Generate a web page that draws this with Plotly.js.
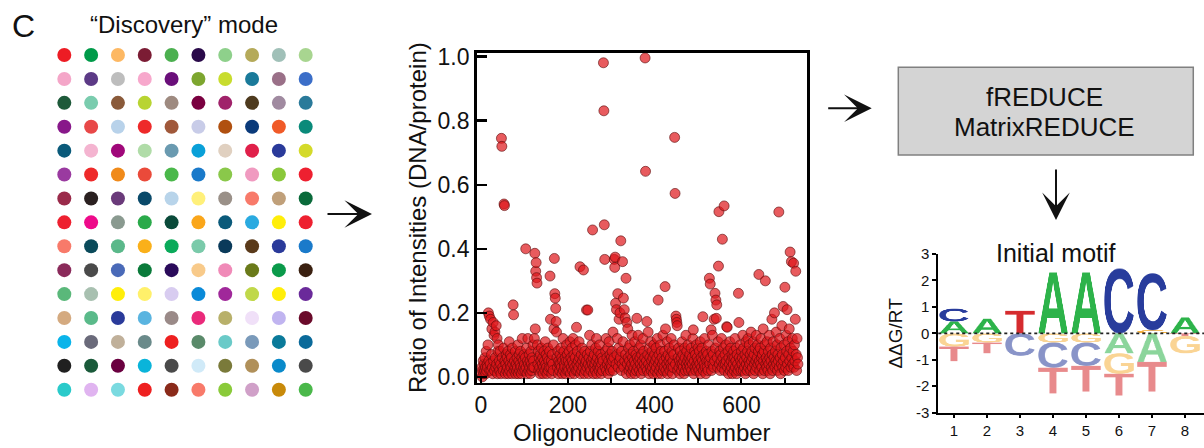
<!DOCTYPE html>
<html>
<head>
<meta charset="utf-8">
<script src="https://cdn.plot.ly/plotly-3.0.1.min.js"></script>
<style>
  html, body { margin: 0; padding: 0; background: #fff; }
  #chart { width: 1204px; height: 448px; }
</style>
</head>
<body>
<div id="chart"></div>
<script>
const FONT = 'Liberation Sans, Arial, Helvetica, sans-serif';

// Array spots, one colour per oligonucleotide, listed row by row (10 per row)
const dotColors = [
  ['#ED1C24','#009A49','#FDB863','#7B1C34','#4CB050','#2A0A4A','#8ED08B','#B5AA5A','#A0C0B8','#A8D590'],
  ['#F4A6C8','#5C3A86','#BDBDBD','#F7A8CC','#6A0F7A','#7DA62F','#C8DC2E','#1A7A9A','#9A7088','#3B6EC8'],
  ['#1E5A3A','#7ACCAE','#8A5A3A','#B8D432','#9E8A80','#7A0040','#A0226A','#4E3A1E','#A08AA0','#2A7A9A'],
  ['#88188A','#E84848','#B8D2EA','#EE2A2A','#A0583A','#C8CCE8','#B05010','#0A3A7A','#F05A28','#0A8A7A'],
  ['#0A5A7A','#F4B4D0','#A0087A','#B0DCA8','#6A9AB0','#0AA0D8','#E0D0C0','#E0204A','#2A3A9A','#D4DA2A'],
  ['#9A3AA0','#EE2A2A','#F08A1A','#EA4A3A','#4AB84A','#1A7ACA','#8AC84A','#F09AC0','#8AC83A','#EE2030'],
  ['#9A2A4A','#2A2020','#6A3A7A','#0A4A6A','#B8D4EA','#FFF07A','#9A9088','#F87A6A','#C0A07A','#0A6A3A'],
  ['#EE2030','#EE0A8A','#8A9A90','#2AAA4A','#0A4A3A','#FAA61A','#0A5A7A','#2AAAE0','#FFEE0A','#EE2030'],
  ['#F87A6A','#0A4A5A','#5AB88A','#FAB01A','#0AAA5A','#7ACAAA','#0A3A5A','#5A3A1A','#2A3A9A','#1A7ACA'],
  ['#8A2A5A','#4A4A4A','#4A6AB8','#0A7A3A','#2A0A5A','#F8CA8A','#F08AB8','#6A7A1A','#0A9A4A','#3A2010'],
  ['#5AB87A','#A8C0B0','#FFEE0A','#FFF06A','#D8CCF0','#0A8AD8','#A0289A','#C0D84A','#FFEE0A','#6A2A9A'],
  ['#D4AA80','#5ABA8A','#2A3A9A','#5AB4E0','#9A8A88','#EA2A7A','#B8B06A','#F0E0F8','#C0B4F0','#6A0A2A'],
  ['#0AB4EA','#6A6A7A','#C0B09A','#6A8A8A','#EE2020','#5A8A6A','#6ACAC8','#7A9ABA','#0A7A9A','#0A6A9A'],
  ['#202020','#1A5A3A','#6A0040','#0AB4DA','#4A4A4A','#D0EAF8','#7A7A3A','#B0905A','#0A8ACA','#4A4A4A'],
  ['#2ACACA','#E0B4F0','#7ADAE0','#EE2020','#8A2A1A','#F87A6A','#8ACA3A','#D0A0C8','#C88A0A','#4AB84A']
];

// DNA/protein intensity ratio, one value per oligonucleotide (numbered from 1)
const ratio = [
  .01,.03,.00,.02,.05,.01,.04,.02,.06,.03,.01,.08,.02,.04,.03,.10,.20,.05,.19,.02,
  .04,.18,.02,.07,.15,.03,.01,.17,.05,.13,.02,.14,.06,.03,.16,.04,.12,.01,.08,.10,
  .03,.05,.02,.08,.04,.01,.745,.72,.06,.03,.02,.09,.54,.535,.05,.01,.04,.07,.02,.06,
  .03,.08,.01,.05,.11,.02,.04,.07,.03,.06,.01,.09,.04,.225,.194,.02,.05,.03,.08,.01,
  .04,.02,.06,.03,.10,.01,.05,.07,.02,.04,.08,.03,.01,.06,.12,.02,.05,.03,.07,.04,
  .02,.06,.40,.03,.09,.01,.05,.12,.04,.02,.07,.03,.05,.01,.08,.04,.02,.06,.03,.10,
  .05,.03,.12,.386,.15,.33,.357,.31,.293,.10,.04,.08,.02,.06,.03,.01,.07,.05,.09,.02,
  .04,.06,.01,.03,.08,.05,.02,.11,.04,.07,.03,.01,.06,.09,.02,.05,.03,.08,.315,.18,
  .03,.05,.01,.07,.04,.02,.10,.15,.37,.26,.246,.214,.173,.14,.06,.03,.08,.01,.05,.04,
  .02,.07,.04,.09,.03,.06,.01,.05,.12,.02,.08,.04,.03,.06,.01,.05,.10,.02,.07,.03,
  .05,.02,.08,.04,.11,.01,.06,.03,.09,.05,.02,.12,.04,.07,.01,.03,.06,.10,.02,.155,
  .04,.08,.02,.05,.03,.11,.06,.344,.01,.04,.07,.02,.09,.05,.03,.334,.06,.01,.08,.04,
  .02,.05,.209,.03,.07,.209,.04,.01,.06,.13,.03,.08,.02,.05,.10,.04,.459,.06,.01,.03,
  .07,.04,.02,.09,.05,.12,.01,.06,.03,.08,.04,.02,.10,.05,.03,.07,.01,.04,.06,.02,
  .05,.981,.831,.475,.367,.03,.08,.12,.02,.06,.04,.09,.01,.05,.11,.03,.07,.02,.04,.06,
  .03,.08,.05,.14,.02,.06,.367,.342,.374,.23,.04,.21,.07,.12,.26,.03,.09,.18,.05,.20,
  .06,.425,.02,.08,.04,.36,.11,.246,.03,.21,.05,.184,.07,.308,.01,.17,.04,.15,.06,.09,
  .02,.05,.10,.03,.07,.01,.04,.13,.06,.02,.08,.03,.05,.11,.01,.04,.07,.02,.183,.06,
  .03,.13,.05,.09,.02,.06,.04,.10,.01,.07,.03,.05,.12,.02,.08,.04,.06,.996,.642,.03,
  .05,.173,.02,.07,.14,.04,.01,.09,.06,.03,.11,.02,.05,.08,.03,.06,.01,.10,.04,.07,
  .02,.05,.09,.03,.06,.12,.01,.24,.04,.07,.02,.05,.10,.03,.08,.01,.06,.04,.13,.02,
  .05,.03,.08,.282,.15,.02,.06,.04,.11,.01,.07,.03,.05,.09,.02,.06,.04,.12,.03,.08,
  .01,.05,.03,.07,.10,.748,.573,.04,.19,.18,.17,.16,.02,.06,.09,.03,.05,.01,.08,.04,
  .06,.02,.11,.04,.07,.03,.05,.01,.09,.06,.02,.13,.04,.08,.03,.05,.10,.02,.06,.04,
  .07,.03,.05,.09,.02,.06,.04,.12,.147,.01,.05,.08,.03,.07,.02,.10,.04,.06,.03,.09,
  .05,.02,.08,.04,.11,.01,.06,.03,.09,.05,.188,.02,.07,.04,.12,.03,.06,.01,.08,.05,
  .03,.07,.02,.10,.05,.308,.04,.29,.06,.147,.02,.08,.13,.04,.07,.03,.18,.05,.261,.09,
  .24,.183,.225,.06,.03,.11,.346,.516,.04,.08,.02,.07,.05,.12,.03,.43,.06,.09,.04,.534,
  .02,.07,.04,.10,.05,.157,.155,.03,.08,.01,.06,.04,.11,.02,.09,.05,.03,.07,.01,.06,
  .04,.08,.02,.06,.12,.03,.05,.09,.01,.07,.04,.02,.261,.17,.06,.03,.10,.05,.02,.08,
  .04,.06,.13,.02,.09,.05,.03,.07,.01,.11,.04,.06,.02,.08,.12,.03,.05,.10,.04,.07,
  .02,.14,.05,.08,.03,.06,.11,.01,.07,.04,.09,.02,.05,.13,.03,.06,.10,.04,.08,.32,
  .05,.02,.09,.04,.12,.06,.03,.07,.01,.15,.05,.08,.02,.10,.30,.04,.06,.03,.11,.05,
  .02,.08,.04,.13,.06,.01,.09,.05,.03,.18,.07,.02,.11,.04,.06,.20,.03,.08,.05,.14,
  .04,.10,.02,.07,.05,.515,.03,.12,.06,.01,.09,.04,.16,.07,.03,.22,.05,.10,.02,.28,
  .06,.03,.13,.08,.21,.04,.11,.02,.07,.15,.05,.39,.09,.03,.36,.06,.12,.04,.08,.355,
  .03,.10,.05,.18,.33,.07,.02,.12,.06,.04
];
const xTickVals = [0, 100, 200, 300, 400, 500, 600, 700];
const xTickText = ['0', '', '200', '', '400', '', '600', ''];
const yTickVals = [0, 0.2, 0.4, 0.6, 0.8, 1.0];
const yTickText = ['0.0', '0.2', '0.4', '0.6', '0.8', '1.0'];

// Initial motif: ΔΔG/RT contribution of each base at positions 1-8
const motifPositions = [1, 2, 3, 4, 5, 6, 7, 8];
const motifA = [0.45, 0.55, 0, 2.3, 2.3, -0.75, -1.08, 0.6];
const motifC = [0.48, 0, -0.85, -0.95, -0.88, 2.45, 2.15, 0];
const motifG = [-0.5, -0.35, 0, -0.35, -0.35, -0.78, 0.12, -0.65];
const motifT = [-0.55, -0.4, 0.85, -0.97, -0.97, -0.82, -1.12, -0.1];
const motifTickVals = [-3, -2, -1, 0, 1, 2, 3];
const motifTickText = ['-3', '-2', '-1', '0', '1', '2', '3'];
const baseColors = { A: '#2DB34A', C: '#283C9C', G: '#F6B13D', T: '#D52B2E' };

// Render one glyph cropped tightly to its ink so it can be stretched to a stack height
const glyphCache = {};
function glyph(letter) {
  if (glyphCache[letter]) return glyphCache[letter];
  const canvas = document.createElement('canvas');
  let ctx = canvas.getContext('2d');
  const font = 'bold 240px "Liberation Sans", Arial, sans-serif';
  ctx.font = font;
  const m = ctx.measureText(letter);
  const left = m.actualBoundingBoxLeft, right = m.actualBoundingBoxRight;
  const asc = m.actualBoundingBoxAscent, desc = m.actualBoundingBoxDescent;
  canvas.width = Math.ceil(left + right);
  canvas.height = Math.ceil(asc + desc);
  ctx = canvas.getContext('2d');
  ctx.font = font;
  ctx.fillStyle = baseColors[letter];
  ctx.textBaseline = 'alphabetic';
  ctx.fillText(letter, left, asc);
  glyphCache[letter] = canvas.toDataURL('image/png');
  return glyphCache[letter];
}

// Stack letters outward from zero: smallest magnitude nearest the axis
const letterWidth = 0.9;
const logoImages = [];
motifPositions.forEach((pos, i) => {
  const entries = [
    { b: 'A', v: motifA[i] }, { b: 'C', v: motifC[i] },
    { b: 'G', v: motifG[i] }, { b: 'T', v: motifT[i] }
  ];
  const up = entries.filter(e => e.v > 0).sort((a, b) => a.v - b.v);
  const down = entries.filter(e => e.v < 0).sort((a, b) => b.v - a.v);
  let top = 0;
  up.forEach(e => {
    logoImages.push({
      source: glyph(e.b), xref: 'x3', yref: 'y3',
      x: pos - letterWidth / 2, y: top + e.v, sizex: letterWidth, sizey: e.v,
      xanchor: 'left', yanchor: 'top', sizing: 'stretch', layer: 'above', opacity: 1
    });
    top += e.v;
  });
  let bottom = 0;
  down.forEach(e => {
    logoImages.push({
      source: glyph(e.b), xref: 'x3', yref: 'y3',
      x: pos - letterWidth / 2, y: bottom, sizex: letterWidth, sizey: -e.v,
      xanchor: 'left', yanchor: 'top', sizing: 'stretch', layer: 'above', opacity: 0.55
    });
    bottom += e.v;
  });
});

// Spot grid trace
const dotX = [], dotY = [], dotC = [];
dotColors.forEach((row, r) => row.forEach((col, c) => {
  dotX.push(c + 1); dotY.push(r + 1); dotC.push(col);
}));

const traces = [
  {
    type: 'scatter', mode: 'markers', xaxis: 'x2', yaxis: 'y2',
    x: dotX, y: dotY, hoverinfo: 'skip',
    marker: { size: 14, color: dotC, line: { width: 0 } }
  },
  {
    type: 'scatter', mode: 'markers', xaxis: 'x', yaxis: 'y',
    x: ratio.map((_, i) => i + 1), y: ratio, hoverinfo: 'skip',
    marker: {
      size: 10, color: 'rgba(222,22,26,0.7)',
      line: { width: 1, color: 'rgba(90,12,12,0.6)' }
    }
  }
];

const axisFont = { family: FONT, size: 23, color: '#111' };

function label(text, px, py, size) {
  return {
    text: text, xref: 'paper', yref: 'paper', x: px / 1204, y: 1 - py / 448,
    xanchor: 'center', yanchor: 'middle', showarrow: false,
    font: { family: FONT, size: size, color: '#111' }
  };
}
function arrow(px, py, ax, ay) {
  return {
    text: '', xref: 'paper', yref: 'paper', x: px / 1204, y: 1 - py / 448, ax: ax, ay: ay,
    showarrow: true, arrowhead: 3, arrowsize: 2.3, arrowwidth: 2, arrowcolor: '#111', standoff: 0
  };
}

const layout = {
  width: 1204, height: 448,
  margin: { l: 0, r: 0, t: 0, b: 0 },
  paper_bgcolor: '#fff', plot_bgcolor: 'rgba(0,0,0,0)',
  showlegend: false,
  font: { family: FONT, color: '#111' },
  xaxis: {
    domain: [0.3959, 0.6703], range: [-10, 751], anchor: 'y',
    tickvals: xTickVals, ticktext: xTickText, tickfont: axisFont,
    ticks: 'inside', ticklen: 5, tickwidth: 2, tickcolor: '#000',
    showline: true, linewidth: 2.5, linecolor: '#000', mirror: true,
    showgrid: false, zeroline: false,
    title: { text: 'Oligonucleotide Number', font: { family: FONT, size: 24, color: '#111' }, standoff: 8 }
  },
  yaxis: {
    domain: [0.1458, 0.8824], range: [-0.018, 1.0125], anchor: 'x',
    tickvals: yTickVals, ticktext: yTickText, tickfont: axisFont,
    ticks: 'inside', ticklen: 10, tickwidth: 2.5, tickcolor: '#000',
    showline: true, linewidth: 2.5, linecolor: '#000', mirror: true,
    showgrid: false, zeroline: false,
    title: { text: 'Ratio of Intensities (DNA/protein)', font: { family: FONT, size: 24, color: '#111' }, standoff: 4 }
  },
  xaxis2: { domain: [0.04153, 0.26578], range: [0.467, 10.533], anchor: 'y2', visible: false, fixedrange: true },
  yaxis2: { domain: [0.096, 0.9107], range: [15.64, 0.372], anchor: 'x2', visible: false, fixedrange: true },
  xaxis3: {
    domain: [0.7793, 1], range: [0.524, 8.576], anchor: 'y3',
    tickvals: motifPositions, tickfont: { family: FONT, size: 15, color: '#111' },
    ticks: 'outside', ticklen: 3, tickwidth: 1.5, tickcolor: '#000',
    showline: true, linewidth: 2, linecolor: '#000',
    showgrid: false, zeroline: false
  },
  yaxis3: {
    domain: [0.0788, 0.433], range: [-3, 3], anchor: 'x3',
    tickvals: motifTickVals, ticktext: motifTickText,
    tickfont: { family: FONT, size: 15, color: '#111' },
    ticks: 'outside', ticklen: 4, tickwidth: 2, tickcolor: '#000',
    showline: true, linewidth: 2, linecolor: '#000',
    showgrid: false, zeroline: false,
    title: { text: 'ΔΔG/RT', font: { family: FONT, size: 19, color: '#111' }, standoff: 8 }
  },
  images: logoImages,
  shapes: [
    { type: 'line', xref: 'x3 domain', yref: 'y3', x0: 0, x1: 1, y0: 0, y1: 0,
      line: { color: '#222', width: 1.6, dash: 'dot' }, layer: 'above' },
    { type: 'rect', xref: 'paper', yref: 'paper', x0: 0.7461, x1: 0.9911, y0: 0.654, y1: 0.8498,
      fillcolor: '#D4D4D4', line: { color: '#808080', width: 1.5 }, layer: 'below' }
  ],
  annotations: [
    label('C', 23, 26, 32),
    label('\u201CDiscovery\u201D mode', 184, 25, 24),
    label('fREDUCE', 1044, 97, 26),
    label('MatrixREDUCE', 1044, 127, 26),
    label('Initial motif', 1056, 253, 25),
    arrow(372, 214, -46, 0),
    arrow(871.7, 108.3, -45, 0),
    arrow(1056, 220, 0, -52)
  ]
};

Plotly.newPlot('chart', traces, layout, { staticPlot: true, displayModeBar: false });
</script>
</body>
</html>
